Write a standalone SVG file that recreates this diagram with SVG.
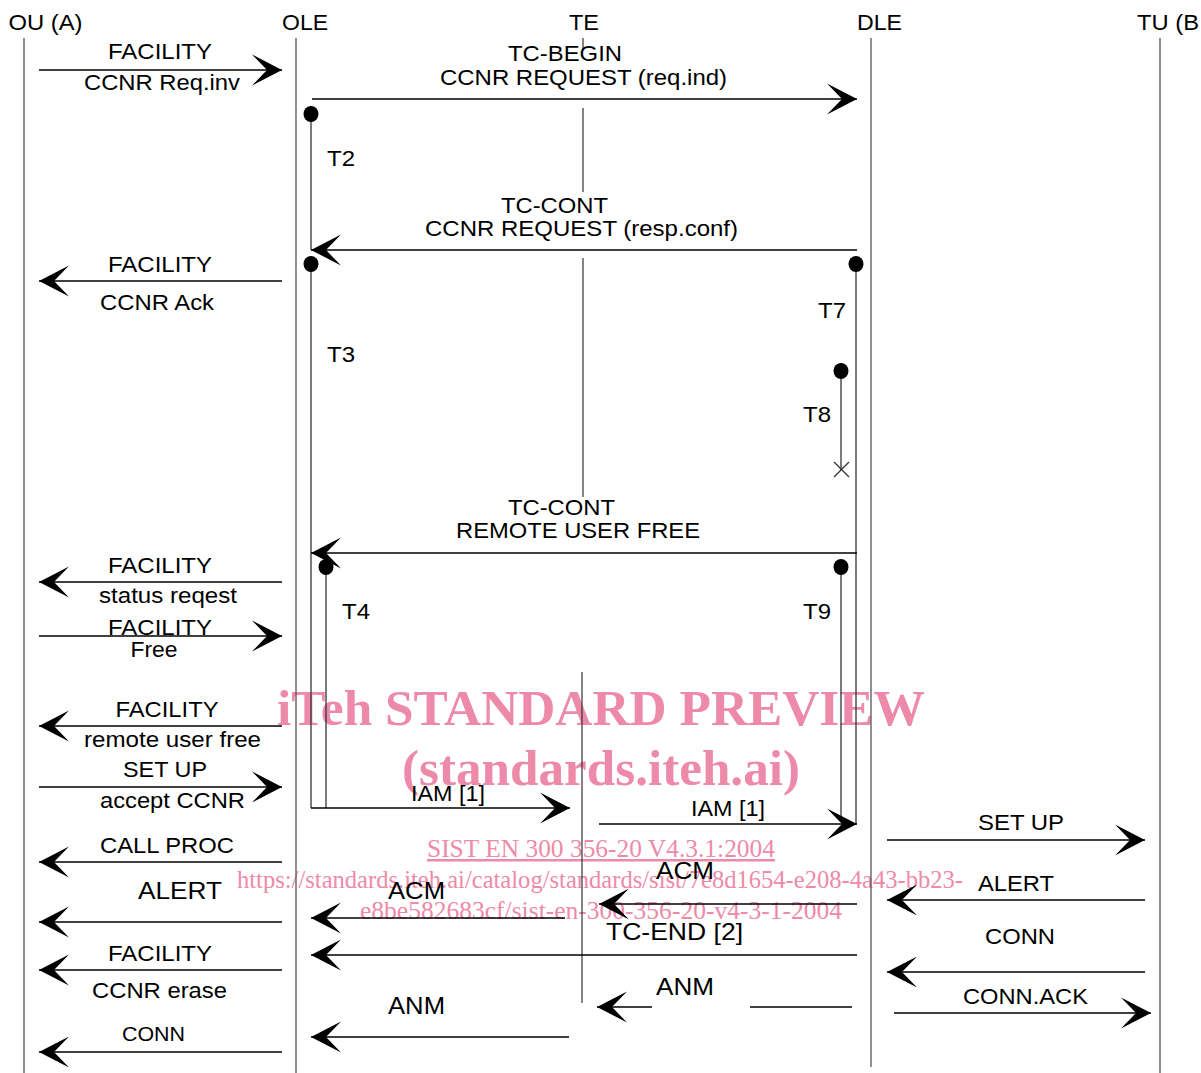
<svg xmlns="http://www.w3.org/2000/svg" width="1201" height="1073" viewBox="0 0 1201 1073">
<style>
.lf{stroke:#555;stroke-width:1.3;fill:none}
.te{stroke:#333;stroke-width:1.2;fill:none}
.tm{stroke:#333;stroke-width:1.3;fill:none}
.ar{stroke:#000;stroke-width:1.3;fill:none;marker-end:url(#ah)}
.ln{stroke:#000;stroke-width:1.3;fill:none}
text{font-family:"Liberation Sans",Arial,sans-serif;font-size:22px;fill:#000}
.m{text-anchor:middle}
.b{font-size:24px}
.s{font-size:20px}
.wm{font-family:"Liberation Serif","Times New Roman",serif;fill:#ee8aa9;text-anchor:middle}
.wb{font-weight:bold;font-size:50px}
.wn{font-size:25px}
</style>
<defs>
<marker id="ah" viewBox="-31 -17 33 34" refX="0" refY="0" markerWidth="33" markerHeight="34" markerUnits="userSpaceOnUse" orient="auto">
<path d="M0,0 L-30,-15.5 L-15,0 L-30,15.5 Z" fill="#000"/>
</marker>
</defs>
<rect width="1201" height="1073" fill="#fff"/>

<g id="watermark">
<text class="wm wb" x="601" y="725" textLength="648" lengthAdjust="spacingAndGlyphs">iTeh STANDARD PREVIEW</text>
<text class="wm wb" x="601" y="785" textLength="398" lengthAdjust="spacingAndGlyphs">(standards.iteh.ai)</text>
<text class="wm wn" x="601" y="857" textLength="348" lengthAdjust="spacingAndGlyphs" text-decoration="underline">SIST EN 300 356-20 V4.3.1:2004</text>
<text class="wm wn" x="600" y="888" textLength="726" lengthAdjust="spacingAndGlyphs">https://standards.iteh.ai/catalog/standards/sist/7e8d1654-e208-4a43-bb23-</text>
<text class="wm wn" x="601" y="919" textLength="482" lengthAdjust="spacingAndGlyphs">e8be582683cf/sist-en-300-356-20-v4-3-1-2004</text>
</g>

<g id="ou">
<text class="m" x="45.5" y="30" textLength="74" lengthAdjust="spacingAndGlyphs">OU (A)</text>
<line class="lf" x1="24" y1="38" x2="24" y2="1073"/>
</g>
<g id="ole">
<text class="m" x="305" y="30" textLength="46" lengthAdjust="spacingAndGlyphs">OLE</text>
<line class="lf" x1="296" y1="38" x2="296" y2="1073"/>
</g>
<g id="te">
<text class="m" x="584" y="30" textLength="30" lengthAdjust="spacingAndGlyphs">TE</text>
<line class="te" x1="583" y1="38" x2="583" y2="50"/>
<line class="te" x1="583" y1="108" x2="583" y2="192"/>
<line class="te" x1="583" y1="258" x2="583" y2="497"/>
<line class="te" x1="582" y1="672" x2="582" y2="1003"/>
</g>
<g id="dle">
<text class="m" x="879.5" y="30" textLength="45" lengthAdjust="spacingAndGlyphs">DLE</text>
<line class="lf" x1="871" y1="38" x2="871" y2="1067"/>
</g>
<g id="tu">
<text x="1137" y="30" textLength="62" lengthAdjust="spacingAndGlyphs">TU (B</text>
<line class="lf" x1="1160" y1="38" x2="1160" y2="1073"/>
</g>

<g id="timers">
<line class="tm" x1="311" y1="114" x2="311" y2="250"/>
<ellipse cx="311" cy="114" rx="7.5" ry="8" fill="#000"/>
<text class="m" x="341" y="166" textLength="28" lengthAdjust="spacingAndGlyphs">T2</text>
<line class="tm" x1="311" y1="264" x2="311" y2="808"/>
<ellipse cx="311" cy="264" rx="7.5" ry="8" fill="#000"/>
<text class="m" x="341" y="362" textLength="28" lengthAdjust="spacingAndGlyphs">T3</text>
<line class="tm" x1="856" y1="264" x2="856" y2="824"/>
<ellipse cx="856" cy="264" rx="7.5" ry="8" fill="#000"/>
<text class="m" x="832" y="318" textLength="28" lengthAdjust="spacingAndGlyphs">T7</text>
<line class="tm" x1="841" y1="371" x2="841" y2="470"/>
<ellipse cx="841" cy="371" rx="7.5" ry="8" fill="#000"/>
<path class="tm" d="M834,462 L849,477 M834,477 L849,462"/>
<text class="m" x="817" y="422" textLength="28" lengthAdjust="spacingAndGlyphs">T8</text>
<line class="tm" x1="326" y1="567" x2="326" y2="808"/>
<ellipse cx="326" cy="567" rx="7.5" ry="8" fill="#000"/>
<text class="m" x="356" y="619" textLength="28" lengthAdjust="spacingAndGlyphs">T4</text>
<line class="tm" x1="841" y1="567" x2="841" y2="822"/>
<ellipse cx="841" cy="567" rx="7.5" ry="8" fill="#000"/>
<text class="m" x="817" y="619" textLength="28" lengthAdjust="spacingAndGlyphs">T9</text>
</g>

<g id="connectors">
<line class="ar" x1="39" y1="70" x2="282" y2="70"/>
<text class="m" x="160" y="59" textLength="104" lengthAdjust="spacingAndGlyphs">FACILITY</text>
<text class="m" x="162" y="90" textLength="156" lengthAdjust="spacingAndGlyphs">CCNR Req.inv</text>

<line class="ar" x1="312" y1="99" x2="857" y2="99"/>
<text class="m" x="565" y="61" textLength="114" lengthAdjust="spacingAndGlyphs">TC-BEGIN</text>
<text class="m" x="583.5" y="85" textLength="287" lengthAdjust="spacingAndGlyphs">CCNR REQUEST (req.ind)</text>

<line class="ar" x1="857" y1="250" x2="311" y2="250"/>
<text class="m" x="554.5" y="213" textLength="107" lengthAdjust="spacingAndGlyphs">TC-CONT</text>
<text class="m" x="581.5" y="236" textLength="313" lengthAdjust="spacingAndGlyphs">CCNR REQUEST (resp.conf)</text>

<line class="ar" x1="282" y1="281" x2="39" y2="281"/>
<text class="m" x="160" y="272" textLength="104" lengthAdjust="spacingAndGlyphs">FACILITY</text>
<text class="m" x="157" y="310" textLength="114" lengthAdjust="spacingAndGlyphs">CCNR Ack</text>

<line class="ar" x1="857" y1="553" x2="311" y2="553"/>
<text class="m" x="561.5" y="515" textLength="107" lengthAdjust="spacingAndGlyphs">TC-CONT</text>
<text class="m" x="578" y="538" textLength="244" lengthAdjust="spacingAndGlyphs">REMOTE USER FREE</text>

<line class="ar" x1="282" y1="582" x2="39" y2="582"/>
<text class="m" x="160" y="573" textLength="104" lengthAdjust="spacingAndGlyphs">FACILITY</text>
<text class="m" x="168" y="603" textLength="138" lengthAdjust="spacingAndGlyphs">status reqest</text>

<line class="ar" x1="39" y1="636" x2="282" y2="636"/>
<text class="m" x="160" y="635" textLength="104" lengthAdjust="spacingAndGlyphs">FACILITY</text>
<text class="m" x="154" y="657" textLength="47" lengthAdjust="spacingAndGlyphs">Free</text>

<line class="ar" x1="282" y1="726" x2="39" y2="726"/>
<text class="m" x="167" y="717" textLength="103" lengthAdjust="spacingAndGlyphs">FACILITY</text>
<text class="m" x="172.5" y="747" textLength="177" lengthAdjust="spacingAndGlyphs">remote user free</text>

<line class="ar" x1="39" y1="787" x2="282" y2="787"/>
<text class="m" x="165" y="777" textLength="84" lengthAdjust="spacingAndGlyphs">SET UP</text>
<text class="m" x="172.5" y="808" textLength="145" lengthAdjust="spacingAndGlyphs">accept CCNR</text>

<line class="ar" x1="311" y1="808" x2="570" y2="808"/>
<text class="m" x="448" y="801" textLength="74" lengthAdjust="spacingAndGlyphs">IAM [1]</text>

<line class="ar" x1="599" y1="824" x2="857" y2="824"/>
<text class="m" x="728" y="816" textLength="74" lengthAdjust="spacingAndGlyphs">IAM [1]</text>

<line class="ar" x1="887" y1="840" x2="1145" y2="840"/>
<text class="m" x="1021" y="830" textLength="86" lengthAdjust="spacingAndGlyphs">SET UP</text>

<line class="ar" x1="282" y1="862" x2="39" y2="862"/>
<text class="m" x="167" y="853" textLength="134" lengthAdjust="spacingAndGlyphs">CALL PROC</text>

<line class="ar" x1="1145" y1="900" x2="887" y2="900"/>
<text class="m" x="1016" y="891" textLength="76" lengthAdjust="spacingAndGlyphs">ALERT</text>

<line class="ar" x1="857" y1="904" x2="599" y2="904"/>
<text class="m b" x="685" y="879" textLength="58" lengthAdjust="spacingAndGlyphs">ACM</text>

<line class="ar" x1="565" y1="918" x2="311" y2="918"/>
<text class="m b" x="416.5" y="899" textLength="57" lengthAdjust="spacingAndGlyphs">ACM</text>

<line class="ar" x1="282" y1="922" x2="39" y2="922"/>
<text class="m b" x="180" y="899" textLength="84" lengthAdjust="spacingAndGlyphs">ALERT</text>

<line class="ar" x1="857" y1="955" x2="311" y2="955"/>
<text class="m b" x="674.5" y="940" textLength="137" lengthAdjust="spacingAndGlyphs">TC-END [2]</text>

<line class="ar" x1="282" y1="970" x2="39" y2="970"/>
<text class="m" x="160" y="961" textLength="104" lengthAdjust="spacingAndGlyphs">FACILITY</text>
<text class="m" x="159.5" y="998" textLength="135" lengthAdjust="spacingAndGlyphs">CCNR erase</text>

<line class="ar" x1="1145" y1="972" x2="887" y2="972"/>
<text class="m" x="1020" y="944" textLength="70" lengthAdjust="spacingAndGlyphs">CONN</text>

<line class="ln" x1="852" y1="1007" x2="750" y2="1007"/>
<line class="ar" x1="652" y1="1007" x2="597" y2="1007"/>
<text class="m b" x="685" y="995" textLength="58" lengthAdjust="spacingAndGlyphs">ANM</text>

<line class="ar" x1="894" y1="1013" x2="1151" y2="1013"/>
<text class="m" x="1025.5" y="1004" textLength="125" lengthAdjust="spacingAndGlyphs">CONN.ACK</text>

<line class="ar" x1="569" y1="1037" x2="311" y2="1037"/>
<text class="m b" x="416.5" y="1014" textLength="57" lengthAdjust="spacingAndGlyphs">ANM</text>

<line class="ar" x1="282" y1="1052" x2="39" y2="1052"/>
<text class="m s" x="153.5" y="1041" textLength="63" lengthAdjust="spacingAndGlyphs">CONN</text>
</g>
</svg>
